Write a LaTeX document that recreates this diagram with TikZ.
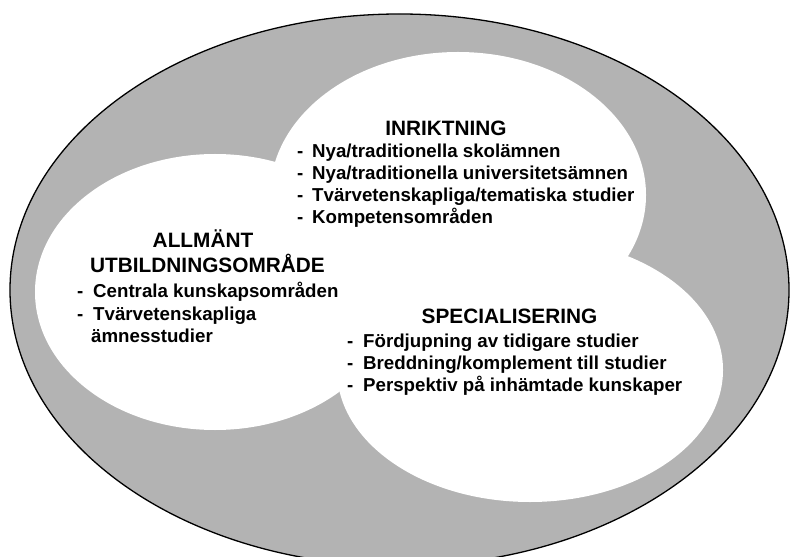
\documentclass[tikz,border=0pt]{standalone}
\usepackage{fontspec}
\setmainfont{Liberation Sans}
\definecolor{ringgray}{RGB}{179,179,179}
\tikzset{
  ttl/.style={font=\fontsize{20.8bp}{24bp}\selectfont\bfseries, inner sep=0pt, anchor=base},
  itm/.style={font=\fontsize{18.7bp}{22bp}\selectfont\bfseries, inner sep=0pt, anchor=base west},
  blob/.style={fill=white, draw=none}
}
\newcommand{\dashitem}[2]{\makebox[#1][l]{-}#2}
\begin{document}
\begin{tikzpicture}[x=1bp,y=-1bp]
\useasboundingbox (0,0) rectangle (790,557);
\begin{scope}
\clip (0,0) rectangle (790,557);
\fill[white] (0,0) rectangle (790,557);
\draw[fill=ringgray, line width=1.3bp] (399.5,290) ellipse [x radius=389.5bp, y radius=276bp];
\fill[blob] (458,195) ellipse [x radius=188bp, y radius=143bp];
\fill[blob] (215,292) ellipse [x radius=180bp, y radius=138bp];
\fill[blob] (530,370) ellipse [x radius=193bp, y radius=132bp];
\end{scope}
% INRIKTNING
\node[ttl] (t1) at (446,136) {INRIKTNING};
\node[itm] (t1a) at (297,158) {\dashitem{15bp}{Nya/traditionella skolämnen}};
\node[itm] (t1b) at (297,180) {\dashitem{15bp}{Nya/traditionella universitetsämnen}};
\node[itm] (t1c) at (297,202) {\dashitem{15bp}{Tvärvetenskapliga/tematiska studier}};
\node[itm] (t1d) at (297,224) {\dashitem{15bp}{Kompetensområden}};
% ALLMÄNT UTBILDNINGSOMRÅDE
\node[ttl] (t2) at (203,248) {ALLMÄNT};
\node[ttl] (t2b) at (207.5,273) {UTBILDNINGSOMRÅDE};
\node[itm] (t2c) at (77,298) {\dashitem{16bp}{Centrala kunskapsområden}};
\node[itm] (t2d) at (77,320) {\dashitem{16bp}{Tvärvetenskapliga}};
\node[itm] (t2e) at (91,342) {ämnesstudier};
% SPECIALISERING
\node[ttl] (t3) at (509.5,323) {SPECIALISERING};
\node[itm] (t3a) at (347,347) {\dashitem{16bp}{Fördjupning av tidigare studier}};
\node[itm] (t3b) at (347,369) {\dashitem{16bp}{Breddning/komplement till studier}};
\node[itm] (t3c) at (347,391) {\dashitem{16bp}{Perspektiv på inhämtade kunskaper}};
\end{tikzpicture}
\end{document}
